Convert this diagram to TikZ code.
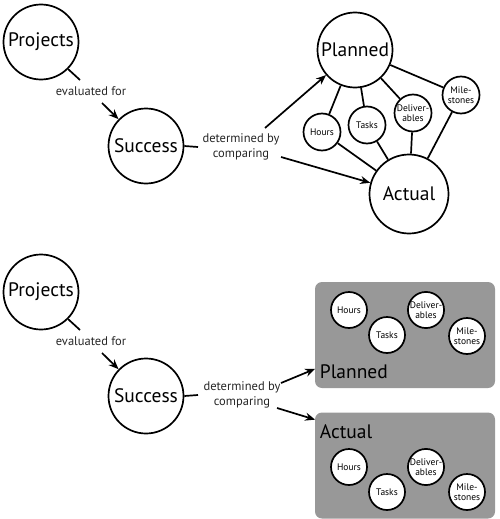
\documentclass[tikz,border=0pt]{standalone}
\usepackage{fontspec}
\setmainfont{PT Sans}
\usetikzlibrary{arrows.meta,calc}
\definecolor{boxgray}{RGB}{152,152,152}

\begin{document}
\begin{tikzpicture}[x=1pt,y=-1pt,line width=1.7pt,>={Stealth[length=10pt,width=8pt]},
  bigc/.style={circle,draw=black,minimum size=75pt,inner sep=0pt,font=\fontsize{19.5}{20}\selectfont},
  smallc/.style={circle,draw=black,fill=white,minimum size=37pt,inner sep=0pt,align=center,font=\fontsize{9.5}{9.5}\selectfont},
  lbl/.style={align=center,text=black!85,font=\fontsize{12.5}{15}\selectfont},
  panel/.style={rectangle,rounded corners=7pt,fill=boxgray,minimum width=180pt,minimum height=106pt}]

\useasboundingbox (0,0) rectangle (500,519);

% top diagram
\node [bigc] (p1) at (41,42) {Projects};
\node [bigc] (s1) at (146,146) {Success};
\node [bigc] (n1) at (355,50) {Planned};
\node [bigc,minimum size=79pt] (a1) at (409,194) {Actual};

\node [smallc] (h1) at (322,132) {Hours};
\node [smallc] (t1) at (367,125) {Tasks};
\node [smallc] (d1) at (413,113) {Deliver-\\ables};
\node [smallc] (m1) at (461,95) {Mile-\\stones};

\node [lbl] (e1) at (91,91) {evaluated for};
\node [lbl] (c1) at (241,147) {determined by\\comparing};

\coordinate (p1t) at (80,80);
\coordinate (s1t) at (198,147);
\coordinate (e1a) at (102,103);
\coordinate (c1a) at (265,128);
\coordinate (c1b) at (281,157);

\draw (p1.-45) -- (p1t);
\draw (s1.east) -- (s1t);
\draw [->] (e1a) -- (s1);
\draw [->] (c1a) -- (n1);
\draw [->] (c1b) -- (a1);

\path
	(n1) edge (h1)
	edge (t1)
	edge (d1)
	edge (m1)
	(a1) edge (h1)
	edge (t1)
	edge (d1)
	edge (m1)
;

% bottom diagram
\node [bigc] (p2) at (41,292) {Projects};
\node [bigc] (s2) at (146,396) {Success};

\node [lbl] (e2) at (91,341) {evaluated for};
\node [lbl] (c2) at (242,395) {determined by\\comparing};

\node [panel] (bp) at (405,335) {};
\node [panel] (ba) at (405,465.5) {};

\node [anchor=west,inner sep=0pt,font=\fontsize{19.5}{20}\selectfont] (bpl) at (319,372) {Planned};
\node [anchor=west,inner sep=0pt,font=\fontsize{19.5}{20}\selectfont] (bal) at (319,432) {Actual};

\node [smallc,minimum size=36pt] (h2) at (349,310) {Hours};
\node [smallc,minimum size=36pt] (t2) at (387,335) {Tasks};
\node [smallc,minimum size=36pt] (d2) at (426,310) {Deliver-\\ables};
\node [smallc,minimum size=36pt] (m2) at (467,336) {Mile-\\stones};

\node [smallc,minimum size=36pt] (h3) at (349,467) {Hours};
\node [smallc,minimum size=36pt] (t3) at (387,492) {Tasks};
\node [smallc,minimum size=36pt] (d3) at (426,467) {Deliver-\\ables};
\node [smallc,minimum size=36pt] (m3) at (467,492) {Mile-\\stones};

\coordinate (p2t) at (80,330);
\coordinate (s2t) at (198,395);
\coordinate (e2a) at (102,353);
\coordinate (c2a) at (281,383);
\coordinate (c2b) at (277,408);
\coordinate (bpin) at ($(bp.south west)+(1,-20)$);
\coordinate (bain) at ($(ba.north west)+(1,8)$);

\draw (p2.-45) -- (p2t);
\draw (s2.east) -- (s2t);
\draw [->] (e2a) -- (s2);
\draw [->] (c2a) -- (bpin);
\draw [->] (c2b) -- (bain);

\end{tikzpicture}
\end{document}
